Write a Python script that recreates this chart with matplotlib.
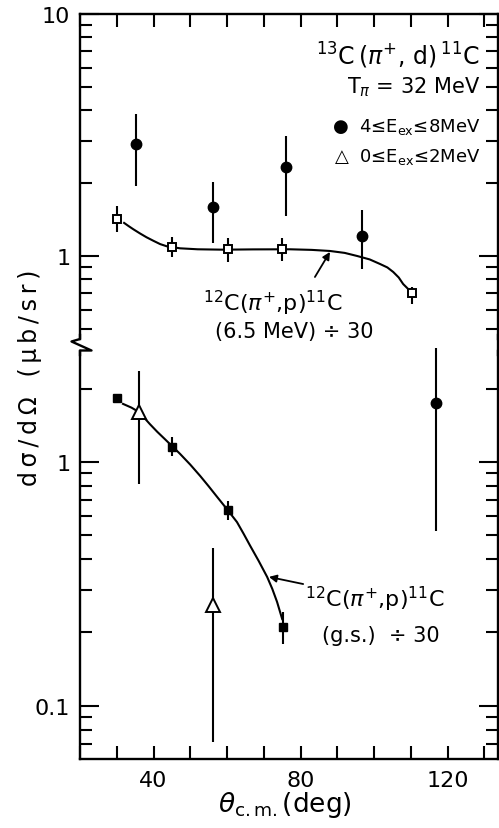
import numpy as np
import matplotlib.pyplot as plt
from matplotlib.lines import Line2D
from matplotlib.ticker import NullFormatter

W, H = 499, 829

plt.rcParams['font.family'] = ['DejaVu Sans']
plt.rcParams['mathtext.fontset'] = 'dejavusans'

# 13C(pi+,d)11C, 4 <= Ex <= 8 MeV (filled circles, upper scale)
circ_theta = [35.2, 56.2, 76.1, 96.7]
circ_val = [2.90, 1.59, 2.33, 1.21]
circ_lo = [1.95, 1.13, 1.46, 0.884]
circ_hi = [3.86, 2.02, 3.13, 1.55]
# the last circle is drawn below the break
circ2_theta = [116.9]
circ2_val = [1.74]
circ2_lo = [0.52]
circ2_hi = [2.93]

# 0 <= Ex <= 2 MeV (open triangles, lower scale)
tri_theta = [36.1, 56.2]
tri_val = [1.60, 0.259]
tri_lo = [0.81, 0.0711]
tri_hi = [2.36, 0.444]

# 12C(pi+,p)11C (6.5 MeV) / 30 (open squares)
osq_theta = [30.1, 45.0, 60.3, 75.0, 110.3]
osq_val = [1.42, 1.09, 1.07, 1.07, 0.703]
osq_lo = [1.26, 0.99, 0.945, 0.95, 0.633]
osq_hi = [1.61, 1.20, 1.19, 1.19, 0.745]

# 12C(pi+,p)11C (g.s.) / 30 (filled squares)
fsq_theta = [30.1, 45.0, 60.3, 75.3]
fsq_val = [1.83, 1.15, 0.636, 0.211]
fsq_lo = [1.83, 1.06, 0.58, 0.18]
fsq_hi = [1.83, 1.27, 0.69, 0.243]

# hand-drawn guide curves
curve_up_theta = [32.0, 33.2, 34.5, 36.3, 38.1, 40.0, 41.8, 43.6, 47.2, 52.0, 59.0,
                  67.0, 77.1, 83.0, 88.0, 92.0, 95.4, 98.8, 101.6, 103.6, 105.2,
                  106.7, 107.9, 109.8]
curve_up_val = [1.37, 1.33, 1.29, 1.24, 1.195, 1.155, 1.12, 1.097, 1.076, 1.066, 1.062,
                1.065, 1.066, 1.06, 1.049, 1.03, 1.0, 0.968, 0.927, 0.897, 0.859,
                0.815, 0.766, 0.717]
curve_lo_theta = [31.7, 34.0, 36.1, 39.0, 41.0, 43.1, 47.2, 50.0, 52.7, 55.0, 57.3,
                  60.0, 62.7, 64.5, 66.3, 68.6, 70.9, 72.3, 73.6, 75.0]
curve_lo_val = [1.73, 1.67, 1.60, 1.43, 1.33, 1.24, 1.08, 0.975, 0.876, 0.795, 0.719,
                0.64, 0.567, 0.508, 0.453, 0.393, 0.338, 0.302, 0.267, 0.227]

x_ticks = list(range(20, 140, 10))
x_labels = {40: '40', 80: '80', 120: '120'}
up_major = [1, 10]
up_minor = [0.5, 0.6, 0.7, 0.8, 0.9, 2, 3, 4, 5, 6, 7, 8, 9]
lo_major = [0.1, 1]
lo_minor = [0.07, 0.08, 0.09, 0.2, 0.3, 0.4, 0.5, 0.6, 0.7, 0.8, 0.9, 2]


def px(x, y):
    # pixel position -> figure fraction
    return x / W, 1 - y / H


def box(top, bottom):
    return [80 / W, 1 - bottom / H, 418 / W, (bottom - top) / H]


def draw(ax, th, v, lo, hi, **kw):
    v = np.array(v)
    err = [v - np.array(lo), np.array(hi) - v]
    ax.errorbar(th, v, yerr=err, fmt='none', ecolor='k', elinewidth=1.5,
                capsize=0, zorder=2, clip_on=False)
    ax.plot(th, v, ls='none', zorder=4, clip_on=False, **kw)


fig = plt.figure(figsize=(W / 100, H / 100), dpi=100)
ax_up = fig.add_axes(box(15, 340))
ax_lo = fig.add_axes(box(352, 760), sharex=ax_up)

ax_up.set_xlim(20, 133.7)
ax_up.set_ylim(0.454, 10)
ax_lo.set_ylim(0.0606, 2.85)

for ax, major, minor in ((ax_up, up_major, up_minor), (ax_lo, lo_major, lo_minor)):
    ax.set_yscale('log')
    ax.set_yticks(major)
    ax.set_yticklabels([('%g' % m) for m in major])
    ax.set_yticks(minor, minor=True)
    ax.yaxis.set_minor_formatter(NullFormatter())
    ax.tick_params(axis='y', which='major', direction='in', length=14, width=1.5,
                   left=True, right=True, labelsize=16, pad=7)
    ax.tick_params(axis='y', which='minor', direction='in', length=8.5, width=1.5,
                   left=True, right=True)
    ax.tick_params(axis='x', which='major', direction='in', length=9.5, width=1.5,
                   labelsize=16, pad=8)
    for s in ax.spines.values():
        s.set_linewidth(1.7)

ax_up.spines['bottom'].set_visible(False)
ax_lo.spines['top'].set_visible(False)
ax_lo.set_xticks(x_ticks)
ax_lo.set_xticklabels([x_labels.get(t, '') for t in x_ticks])
ax_up.tick_params(axis='x', bottom=False, top=True, labelbottom=False)
ax_lo.tick_params(axis='x', bottom=True, top=False)

# curves
ax_up.plot(curve_up_theta, curve_up_val, color='k', lw=1.5, zorder=3)
ax_lo.plot(curve_lo_theta, curve_lo_val, color='k', lw=1.5, zorder=3)

# data
draw(ax_up, circ_theta, circ_val, circ_lo, circ_hi, marker='o', ms=7.5, color='k')
draw(ax_lo, circ2_theta, circ2_val, circ2_lo, circ2_hi, marker='o', ms=7.5, color='k')
draw(ax_up, osq_theta, osq_val, osq_lo, osq_hi, marker='s', ms=5.5,
     mfc='white', mec='k', mew=1.4)
draw(ax_lo, fsq_theta, fsq_val, fsq_lo, fsq_hi, marker='s', ms=6.2, color='k')
draw(ax_lo, tri_theta, tri_val, tri_lo, tri_hi, marker='^', ms=10,
     mfc='white', mec='k', mew=1.4)

arrow = dict(arrowstyle='-|>', color='k', lw=1.3, mutation_scale=11,
             shrinkA=0, shrinkB=0)
ax_up.annotate('', xy=(88.0, 1.04), xytext=(83.9, 0.819), arrowprops=arrow)
ax_lo.annotate('', xy=(71.4, 0.338), xytext=(80.7, 0.316), arrowprops=arrow)

# axis break marks
fig.add_artist(Line2D(*zip(*[px(80, 336), px(80, 340), px(71.5, 342.5), px(91.5, 351.5),
                             px(80, 351.5), px(80, 356)]),
                      color='k', lw=1.7, transform=fig.transFigure))
fig.add_artist(Line2D(*zip(*[px(498, 336), px(498, 356)]),
                      color='k', lw=1.7, transform=fig.transFigure))

# labels
fig.text(*px(30, 378), 'd\u2009σ\u2009/\u2009d\u2009Ω\u2009  (\u2009μ\u2009b\u2009/\u2009s\u2009r\u2009)',
         rotation=90, ha='center', va='center', fontsize=17)
fig.text(*px(285, 812), r'$\theta_{\mathrm{c.m.}}$(deg)', ha='center', va='baseline',
         fontsize=19)

# annotations
fig.text(*px(480, 65), r'$^{13}$C$\,$($\pi^{+}$, d)$\,^{11}$C', ha='right',
         va='baseline', fontsize=17)
fig.text(*px(480, 93), r'T$_{\pi}$ = 32 MeV', ha='right', va='baseline', fontsize=15)
fig.text(*px(480, 132), r'●  4≤E$_{\mathrm{ex}}$≤8MeV', ha='right', va='baseline',
         fontsize=13)
fig.text(*px(480, 162), r'△  0≤E$_{\mathrm{ex}}$≤2MeV', ha='right', va='baseline',
         fontsize=13)
fig.text(*px(203, 311), r'$^{12}$C($\pi^{+}$,p)$^{11}$C', ha='left', va='baseline',
         fontsize=16)
fig.text(*px(215, 338), '(6.5 MeV) ÷ 30', ha='left', va='baseline', fontsize=15)
fig.text(*px(305, 607), r'$^{12}$C($\pi^{+}$,p)$^{11}$C', ha='left', va='baseline',
         fontsize=16)
fig.text(*px(322, 642), '(g.s.)  ÷ 30', ha='left', va='baseline', fontsize=15)

fig.savefig('out.png', dpi=100)
